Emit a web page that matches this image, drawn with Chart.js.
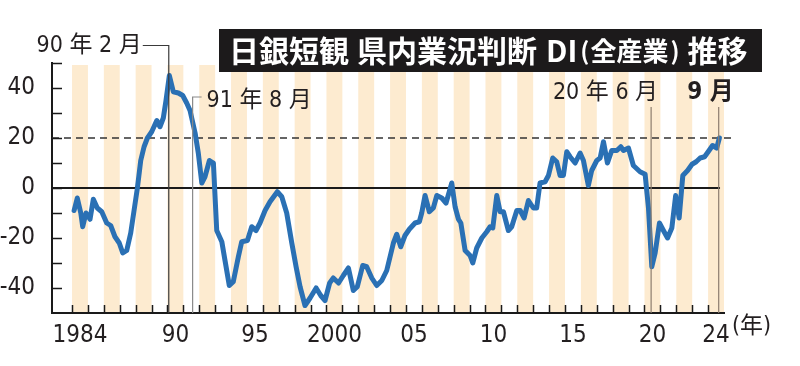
<!DOCTYPE html>
<html>
<head>
<meta charset="utf-8">
<script src="https://cdn.jsdelivr.net/npm/chart.js@4.4.1/dist/chart.umd.min.js"></script>
<style>
  html, body { margin: 0; padding: 0; background: #fff; }
  canvas { display: block; }
</style>
</head>
<body>
<canvas id="diChart" width="800" height="366"></canvas>
<script>
// 日銀短観 県内業況判断DI（全産業）
const surveyDates = [
  1984.13, 1984.33, 1984.55, 1984.67, 1984.88, 1985.13, 1985.34, 1985.59, 1985.87,
  1986.18, 1986.43, 1986.70, 1986.97, 1987.19, 1987.44, 1987.69, 1987.90,
  1988.11, 1988.32, 1988.53, 1988.74, 1989.01, 1989.33, 1989.53, 1989.74, 1989.91,
  1990.12, 1990.37, 1990.69, 1990.96, 1991.21, 1991.42, 1991.74, 1991.94,
  1992.16, 1992.36, 1992.64, 1992.89, 1993.10, 1993.42, 1993.62, 1993.89,
  1994.14, 1994.46, 1994.67, 1995.03, 1995.30, 1995.57, 1995.82,
  1996.14, 1996.45, 1996.91, 1997.19, 1997.50, 1997.82,
  1998.09, 1998.34, 1998.65, 1998.97, 1999.35, 1999.64, 1999.91,
  2000.20, 2000.43, 2000.76, 2001.06, 2001.38, 2001.69, 2001.94,
  2002.28, 2002.53, 2002.85, 2003.16, 2003.48, 2003.79,
  2004.00, 2004.21, 2004.42, 2004.67, 2004.94, 2005.21, 2005.57, 2005.84, 2005.99,
  2006.20, 2006.47, 2006.72, 2006.94, 2007.25, 2007.52, 2007.88,
  2008.09, 2008.30, 2008.45, 2008.72, 2009.03, 2009.20, 2009.45, 2009.77,
  2010.08, 2010.29, 2010.46, 2010.71, 2010.92, 2011.13, 2011.44, 2011.65, 2011.97,
  2012.18, 2012.43, 2012.70, 2013.01, 2013.22, 2013.43, 2013.75, 2013.96,
  2014.23, 2014.48, 2014.69, 2014.90, 2015.11, 2015.32, 2015.64, 2015.95,
  2016.16, 2016.47, 2016.68, 2017.00, 2017.21, 2017.42, 2017.67, 2017.94,
  2018.26, 2018.51, 2018.68, 2018.99, 2019.30, 2019.72,
  2020.04, 2020.25, 2020.46, 2020.67, 2020.94, 2021.19, 2021.45, 2021.72, 2021.96,
  2022.18, 2022.41, 2022.71, 2022.99, 2023.25, 2023.50, 2023.78,
  2024.06, 2024.28, 2024.54, 2024.71
];
const diValues = [
  -9, -4, -10, -15.5, -10, -12.5, -4.5, -8, -9.5,
  -14, -15, -19.5, -22, -26, -25, -18, -9,
  0, 11, 16.5, 20, 22.5, 27, 24.5, 28, 35,
  45, 38.5, 38, 37, 34, 31, 22, 14,
  2, 4.5, 11, 10, -17, -21.5, -29, -39,
  -37.5, -27.5, -21.5, -21, -15.5, -17, -14,
  -9, -5.5, -1.5, -3.5, -10, -22,
  -31.5, -39.5, -47, -44, -40, -43, -45,
  -38, -36, -38, -35, -32, -41, -39.5,
  -31, -31.5, -36, -39, -37, -33,
  -27.5, -22, -18.5, -23.5, -19, -16.5, -14, -13.5, -10,
  -3, -9.5, -8, -3, -4, -6, 2,
  -7.5, -12.5, -14, -25, -27, -30, -24, -20,
  -17.5, -15.5, -16, -3, -9.5, -9.5, -17, -15.5, -9,
  -9, -12, -5, -8, -8, 2, 2.5, 5,
  12, 10.5, 5, 5, 14.5, 12.5, 10, 14,
  11, 1, 7, 11, 12, 18.5, 10, 15,
  15, 16.5, 15, 16, 9, 6.5,
  5.5, -8, -31.5, -26, -14, -17, -20, -16, -3,
  -12, 5, 7, 9.5, 10.5, 12, 12.5,
  15, 17, 16, 20
];

const xTickYears = [1984.5, 1990.5, 1995.5, 2000.5, 2005.5, 2010.5, 2015.5, 2020.5, 2024.5];
const xTickLabels = ['1984', '90', '95', '2000', '05', '10', '15', '20', '24'];
const yTickValues = [-40, -20, 0, 20, 40];

const markerDates = [1990 + 1 / 12, 1991 + 7 / 12, 2020 + 5 / 12, 2024 + 8 / 12];
const markerLabels = ['90 年 2 月', '91 年 8 月', '20 年 6 月', '9 月'];

const chartTitle = ['日銀短観', '県内業況判断', 'DI', '(', '全産業', ')', '推移'];

const firstYear = 1984;
const lastYear = 2024;

const numFont = '"Liberation Sans Narrow", "DejaVu Sans Condensed", "Noto Sans CJK JP", sans-serif';
const stripeColor = '#fdebd0';
const lineColor = '#2a70b4';

const decorations = {
  id: 'decorations',
  beforeDraw(chart) {
    const { ctx, chartArea, scales: { x } } = chart;
    ctx.save();
    ctx.fillStyle = stripeColor;
    for (let yr = firstYear; yr <= lastYear; yr += 2) {
      const x0 = x.getPixelForValue(yr);
      const x1 = x.getPixelForValue(yr + 1);
      ctx.fillRect(x0, chartArea.top + 2, x1 - x0, chartArea.bottom - chartArea.top - 2);
    }
    ctx.restore();
  },
  beforeDatasetsDraw(chart) {
    const { ctx, chartArea, scales: { x, y } } = chart;
    ctx.save();
    // 0 line
    ctx.strokeStyle = '#1a1a1a';
    ctx.lineWidth = 2;
    ctx.beginPath();
    ctx.moveTo(chartArea.left, y.getPixelForValue(0));
    ctx.lineTo(x.getPixelForValue(2024.75), y.getPixelForValue(0));
    ctx.stroke();
    // 20 dashed
    ctx.lineWidth = 1.5;
    ctx.strokeStyle = '#333';
    ctx.setLineDash([7, 5]);
    ctx.beginPath();
    ctx.moveTo(chartArea.left, y.getPixelForValue(20));
    ctx.lineTo(x.getPixelForValue(2025.7), y.getPixelForValue(20));
    ctx.stroke();
    ctx.restore();
  },
  afterDatasetsDraw(chart) {
    const { ctx, chartArea, scales: { x, y } } = chart;
    ctx.save();

    // inward ticks
    ctx.strokeStyle = '#1a1a1a';
    ctx.lineWidth = 1.5;
    ctx.beginPath();
    for (let v = -40; v <= 50; v += 10) {
      const py = Math.round(y.getPixelForValue(v)) + 0.5;
      ctx.moveTo(chartArea.left, py);
      ctx.lineTo(chartArea.left + 10, py);
    }
    for (let yr = firstYear; yr <= lastYear; yr++) {
      const px = Math.round(x.getPixelForValue(yr)) + 0.5;
      ctx.moveTo(px, chartArea.bottom);
      ctx.lineTo(px, chartArea.bottom - 8);
    }
    ctx.stroke();

    // marker lines + labels
    const bottom = chartArea.bottom;
    ctx.textBaseline = 'middle';
    ctx.fillStyle = '#231f20';

    // 90年2月
    let px = x.getPixelForValue(markerDates[0]);
    let top = y.getPixelForValue(57);
    ctx.strokeStyle = '#3a3a3a';
    ctx.lineWidth = 1.2;
    ctx.beginPath();
    ctx.moveTo(px - 26, top);
    ctx.lineTo(px, top);
    ctx.lineTo(px, bottom);
    ctx.stroke();
    ctx.font = '23px ' + numFont;
    ctx.textAlign = 'right';
    ctx.fillText(markerLabels[0], px - 27, top + 1);

    // 91年8月
    px = x.getPixelForValue(markerDates[1]);
    top = y.getPixelForValue(36.4);
    ctx.strokeStyle = '#8a8a8a';
    ctx.beginPath();
    ctx.moveTo(px + 9, top);
    ctx.lineTo(px, top);
    ctx.lineTo(px, bottom);
    ctx.stroke();
    ctx.textAlign = 'left';
    ctx.fillText(markerLabels[1], px + 14, top + 4);

    // 20年6月 / 9月
    top = y.getPixelForValue(32.4);
    ctx.strokeStyle = '#8c7d6e';
    for (let i = 2; i < 4; i++) {
      px = x.getPixelForValue(markerDates[i]);
      ctx.beginPath();
      ctx.moveTo(px, top);
      ctx.lineTo(px, bottom);
      ctx.stroke();
    }
    ctx.textAlign = 'right';
    ctx.font = '23px ' + numFont;
    ctx.fillText(markerLabels[2], x.getPixelForValue(markerDates[2]) + 7, top - 14);
    ctx.font = 'bold 24px ' + numFont;
    ctx.fillText(markerLabels[3], x.getPixelForValue(markerDates[3]) + 15, top - 14);

    // (年)
    ctx.font = '23px ' + numFont;
    ctx.textAlign = 'left';
    ctx.fillText('(年)', x.getPixelForValue(2025) + 8, bottom + 14);

    // title box
    ctx.fillStyle = '#1c1a1b';
    ctx.fillRect(219, 29, 543, 43);
    ctx.fillStyle = '#ffffff';
    ctx.textAlign = 'left';
    const sizes = [30, 30, 30, 24, 26, 24, 30];
    const gaps = [8, 9, 3, 1, 2, 8, 0];
    let tx = 229;
    chartTitle.forEach((t, i) => {
      ctx.font = 'bold ' + sizes[i] + 'px "Noto Sans CJK JP", sans-serif';
      ctx.fillText(t, tx, 51);
      tx += ctx.measureText(t).width + gaps[i];
    });

    ctx.restore();
  }
};

new Chart(document.getElementById('diChart'), {
  type: 'line',
  data: {
    datasets: [{
      label: '県内業況判断DI',
      data: surveyDates.map((d, i) => ({ x: d, y: diValues[i] })),
      borderColor: lineColor,
      borderWidth: 5,
      pointRadius: 0,
      tension: 0,
      borderJoinStyle: 'round',
      borderCapStyle: 'round',
      fill: false,
      clip: false
    }]
  },
  options: {
    responsive: false,
    animation: false,
    events: [],
    layout: { padding: { left: 0, top: 63, right: 76, bottom: 0 } },
    plugins: {
      legend: { display: false },
      tooltip: { enabled: false },
      title: { display: false }
    },
    scales: {
      x: {
        type: 'linear',
        min: 1982.74,
        max: 2025,
        afterBuildTicks: (s) => { s.ticks = xTickYears.map(v => ({ value: v })); },
        afterFit: (s) => { s.height = 53; },
        grid: { display: false },
        border: { display: true, color: '#1a1a1a', width: 2 },
        ticks: {
          autoSkip: false,
          maxRotation: 0,
          padding: 0,
          color: '#231f20',
          font: { family: numFont, size: 24 },
          callback: (v, i) => xTickLabels[i]
        }
      },
      y: {
        min: -50,
        max: 50,
        afterBuildTicks: (s) => { s.ticks = yTickValues.map(v => ({ value: v })); },
        afterFit: (s) => { s.width = 52; },
        grid: { display: false },
        border: { display: true, color: '#1a1a1a', width: 2 },
        ticks: {
          padding: 9,
          color: '#231f20',
          font: { family: numFont, size: 24 },
          callback: (v) => String(v)
        }
      }
    }
  },
  plugins: [decorations]
});
</script>
</body>
</html>
